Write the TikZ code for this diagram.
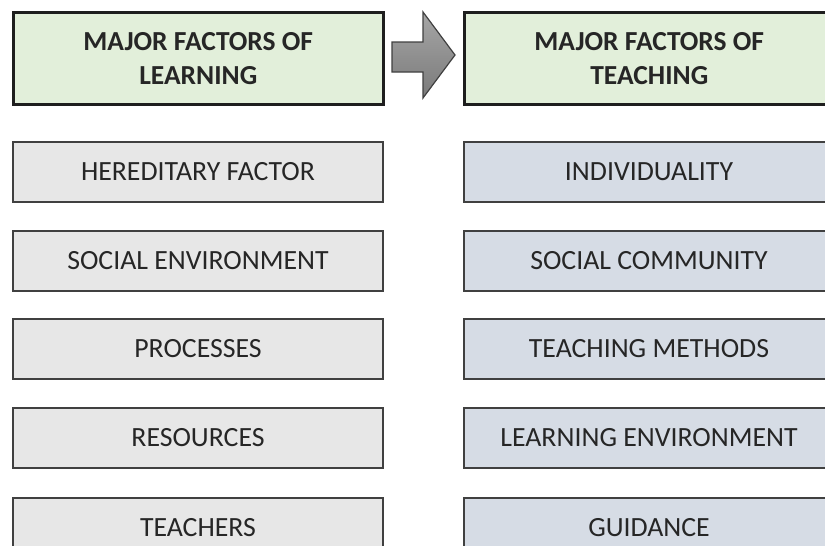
\documentclass[tikz,border=0pt]{standalone}
\usepackage{fontspec}
\setmainfont{Carlito}
\begin{document}
\begin{tikzpicture}[x=1pt,y=-1pt,
  box/.style={draw=boxline, line width=2pt, minimum width=370pt, minimum height=60pt,
    anchor=north west, inner sep=0pt, font=\fontsize{27.8}{32}\selectfont, text=textcol},
  headbox/.style={box, draw=headline, line width=2.6pt, fill=headfill, minimum height=92pt,
    align=center, font=\bfseries\fontsize{27.5}{34}\selectfont},
  learnbox/.style={box, fill=learnfill},
  teachbox/.style={box, fill=teachfill},
  flowarrow/.style={draw=arrowline, line width=1.2pt, top color=arrowtop, bottom color=arrowbot, line join=miter}]
\definecolor{headfill}{HTML}{E2EFDA}
\definecolor{learnfill}{HTML}{E7E7E7}
\definecolor{teachfill}{HTML}{D6DCE5}
\definecolor{boxline}{HTML}{404040}
\definecolor{headline}{HTML}{1E1E1E}
\definecolor{textcol}{HTML}{262626}
\definecolor{arrowline}{HTML}{404040}
\definecolor{arrowtop}{HTML}{A6A6A6}
\definecolor{arrowbot}{HTML}{7A7A7A}
\useasboundingbox (0,0) rectangle (825,546);
\clip (0,0) rectangle (825,546);

% headers
\node[headbox] (hl) at (12,11) {MAJOR FACTORS OF\\LEARNING};
\node[headbox] (ht) at (463,11) {MAJOR FACTORS OF\\TEACHING};

% arrow between the headers
\draw[flowarrow] (392,42) -- (423,42) -- (423,12) -- (455,55) -- (423,98) -- (423,72) -- (392,72) -- cycle;

% factors of learning
\node[learnbox] (l1) at (12,141) {HEREDITARY FACTOR};
\node[learnbox] (l2) at (12,230) {SOCIAL ENVIRONMENT};
\node[learnbox] (l3) at (12,318) {PROCESSES};
\node[learnbox] (l4) at (12,407) {RESOURCES};
\node[learnbox] (l5) at (12,497) {TEACHERS};

% factors of teaching
\node[teachbox] (t1) at (463,141) {INDIVIDUALITY};
\node[teachbox] (t2) at (463,230) {SOCIAL COMMUNITY};
\node[teachbox] (t3) at (463,318) {TEACHING METHODS};
\node[teachbox] (t4) at (463,407) {LEARNING ENVIRONMENT};
\node[teachbox] (t5) at (463,497) {GUIDANCE};
\end{tikzpicture}
\end{document}
